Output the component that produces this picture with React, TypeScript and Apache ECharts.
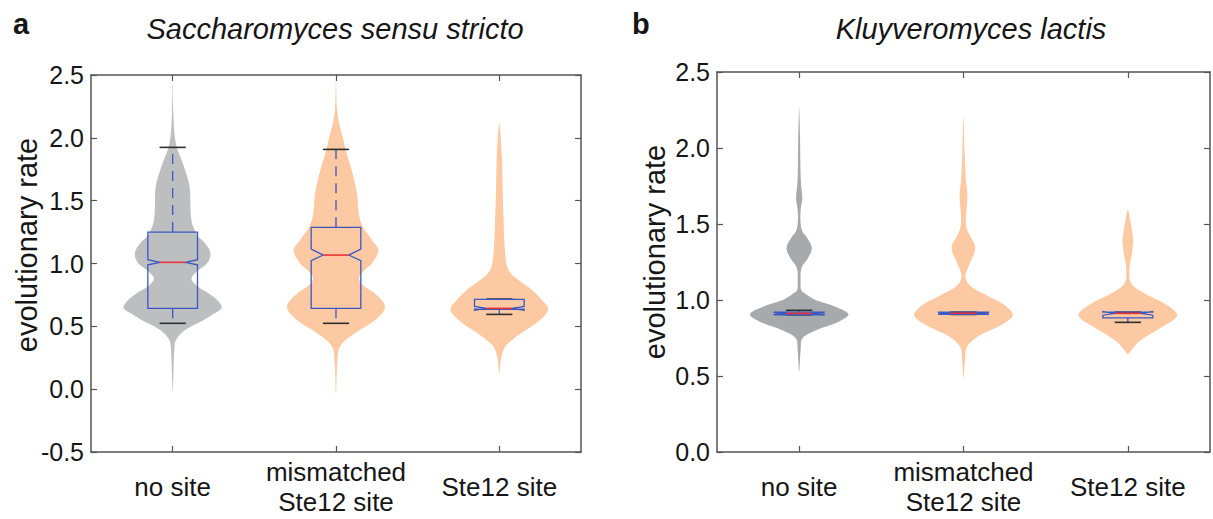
import React, { useEffect, useRef } from "react";
import * as echarts from "echarts";

// ---------- categories & ticks ----------
const categories = ["no site", "mismatched\nSte12 site", "Ste12 site"];
const yRangeA = [-0.5, 2.5];
const yRangeB = [0, 2.5];
const yStep = 0.5;

// ---------- violin profiles (value, half-width as fraction of category band) ----------
// Panel a: Saccharomyces sensu stricto
const aNoSiteY = [2.43, 2.2, 2.02, 1.92, 1.84, 1.74, 1.61, 1.45, 1.33, 1.22, 1.16, 1.08, 1.0, 0.95, 0.88, 0.82, 0.75, 0.70, 0.645, 0.59, 0.55, 0.47, 0.39, 0.31, 0.15, -0.02];
const aNoSiteW = [0, 0.004, 0.012, 0.026, 0.05, 0.077, 0.104, 0.109, 0.117, 0.153, 0.2, 0.232, 0.21, 0.16, 0.115, 0.15, 0.235, 0.28, 0.30, 0.24, 0.19, 0.076, 0.02, 0.01, 0.005, 0];
const aMisY = [2.45, 2.25, 2.14, 1.98, 1.91, 1.74, 1.56, 1.40, 1.30, 1.24, 1.17, 1.107, 1.0, 0.94, 0.88, 0.82, 0.76, 0.656, 0.55, 0.447, 0.34, 0.2, -0.04];
const aMisW = [0, 0.005, 0.015, 0.046, 0.058, 0.097, 0.128, 0.14, 0.16, 0.19, 0.23, 0.26, 0.22, 0.17, 0.14, 0.17, 0.24, 0.30, 0.24, 0.117, 0.025, 0.008, 0];
const aSteY = [2.11, 1.876, 1.61, 1.345, 1.08, 0.948, 0.868, 0.789, 0.709, 0.635, 0.55, 0.444, 0.39, 0.34, 0.25, 0.13];
const aSteW = [0, 0.015, 0.02, 0.026, 0.036, 0.056, 0.117, 0.2, 0.26, 0.30, 0.25, 0.133, 0.077, 0.036, 0.012, 0];

// Panel b: Kluyveromyces lactis
const bNoSiteY = [2.264, 2.085, 1.78, 1.67, 1.60, 1.517, 1.45, 1.41, 1.343, 1.275, 1.21, 1.11, 1.066, 1.04, 1.0, 0.956, 0.906, 0.857, 0.80, 0.748, 0.67, 0.528];
const bNoSiteW = [0, 0.005, 0.01, 0.019, 0.01, 0.008, 0.02, 0.048, 0.077, 0.053, 0.014, 0.009, 0.012, 0.04, 0.10, 0.22, 0.30, 0.24, 0.10, 0.02, 0.009, 0];
const bMisY = [2.205, 1.976, 1.80, 1.69, 1.605, 1.55, 1.474, 1.43, 1.343, 1.234, 1.153, 1.088, 1.02, 0.967, 0.90, 0.836, 0.76, 0.69, 0.605, 0.49];
const bMisW = [0, 0.007, 0.014, 0.024, 0.019, 0.015, 0.019, 0.036, 0.072, 0.036, 0.012, 0.046, 0.16, 0.25, 0.30, 0.23, 0.087, 0.02, 0.009, 0];
const bSteY = [1.594, 1.54, 1.43, 1.39, 1.30, 1.21, 1.11, 1.044, 0.978, 0.90, 0.824, 0.737, 0.67, 0.644];
const bSteW = [0, 0.012, 0.029, 0.033, 0.024, 0.01, 0.02, 0.10, 0.22, 0.30, 0.21, 0.08, 0.02, 0];

// ---------- box statistics ----------
const aLowerWhisker = [0.524, 0.524, 0.595];
const aQ1 = [0.643, 0.643, 0.636];
const aNotchLow = [0.99, 1.022, 0.628];
const aMedian = [1.009, 1.067, 0.643];
const aNotchHigh = [1.03, 1.115, 0.658];
const aQ3 = [1.25, 1.288, 0.714];
const aUpperWhisker = [1.924, 1.908, 0.717];

const bLowerWhisker = [0.903, 0.905, 0.853];
const bQ1 = [0.903, 0.905, 0.882];
const bNotchLow = [0.905, 0.907, 0.9];
const bMedian = [0.912, 0.913, 0.912];
const bNotchHigh = [0.918, 0.919, 0.924];
const bQ3 = [0.92, 0.92, 0.92];
const bUpperWhisker = [0.932, 0.92, 0.92];

// ---------- styles ----------
const FONT = "'Liberation Sans', Arial, Helvetica, sans-serif";
const TEXT = "#161616";
const AXIS = "#555555";
const GRAY_A = "#bcbec0";
const GRAY_B = "#a6aaad";
const PEACH = "#fcc9a2";
const BLUE = "#3a58c4";
const RED = "#e8323a";
const CAP = "#2e2e2e";
const BOX_HALF = 0.152;
const NOTCH_HALF = 0.078;
const CAP_HALF = 0.08;

type Violin = { y: number[]; w: number[]; color: string };

const violinsA: Violin[] = [
  { y: aNoSiteY, w: aNoSiteW, color: GRAY_A },
  { y: aMisY, w: aMisW, color: PEACH },
  { y: aSteY, w: aSteW, color: PEACH },
];
const violinsB: Violin[] = [
  { y: bNoSiteY, w: bNoSiteW, color: GRAY_B },
  { y: bMisY, w: bMisW, color: PEACH },
  { y: bSteY, w: bSteW, color: PEACH },
];

function boxRows(lw: number[], q1: number[], nl: number[], md: number[], nh: number[], q3: number[], uw: number[]) {
  return categories.map((_, i) => [i, lw[i], q1[i], nl[i], md[i], nh[i], q3[i], uw[i]]);
}

function violinRender(violins: Violin[]) {
  return (params: any, api: any) => {
    const v = violins[params.dataIndex];
    const cat = api.value(0);
    const band = api.size([1, 0])[0];
    const right: number[][] = [];
    const left: number[][] = [];
    for (let i = 0; i < v.y.length; i++) {
      const c = api.coord([cat, v.y[i]]);
      right.push([c[0] + v.w[i] * band, c[1]]);
      if (i > 0 && i < v.y.length - 1) left.push([c[0] - v.w[i] * band, c[1]]);
    }
    const pts = right.concat(left.reverse());
    return {
      type: "polygon",
      shape: { points: pts, smooth: 0.35 },
      style: { fill: v.color, stroke: null },
      silent: true,
    };
  };
}

function boxRender(params: any, api: any) {
  const cat = api.value(0);
  const lw = api.value(1), q1 = api.value(2), nl = api.value(3), md = api.value(4);
  const nh = api.value(5), q3 = api.value(6), uw = api.value(7);
  const band = api.size([1, 0])[0];
  const cx = api.coord([cat, md])[0];
  const Y = (v: number) => api.coord([cat, v])[1];
  const hw = BOX_HALF * band, nw = NOTCH_HALF * band, cw = CAP_HALF * band;
  const L = cx - hw, R = cx + hw;
  const children: any[] = [];
  const whisker = (a: number, b: number) => ({
    type: "line",
    shape: { x1: cx, y1: Y(a), x2: cx, y2: Y(b) },
    style: { stroke: BLUE, lineWidth: 1.3, lineDash: [10, 7] },
  });
  if (q3 !== uw) children.push(whisker(q3, uw));
  if (q1 !== lw) children.push(whisker(q1, lw));
  children.push({ type: "line", shape: { x1: cx - cw, y1: Y(uw), x2: cx + cw, y2: Y(uw) }, style: { stroke: CAP, lineWidth: 1.6 } });
  children.push({ type: "line", shape: { x1: cx - cw, y1: Y(lw), x2: cx + cw, y2: Y(lw) }, style: { stroke: CAP, lineWidth: 1.6 } });
  children.push({
    type: "polygon",
    shape: {
      points: [
        [L, Y(q1)], [L, Y(nl)], [cx - nw, Y(md)], [L, Y(nh)], [L, Y(q3)],
        [R, Y(q3)], [R, Y(nh)], [cx + nw, Y(md)], [R, Y(nl)], [R, Y(q1)],
      ],
    },
    style: { fill: null, stroke: BLUE, lineWidth: 1.3 },
  });
  children.push({ type: "line", shape: { x1: cx - nw, y1: Y(md), x2: cx + nw, y2: Y(md) }, style: { stroke: RED, lineWidth: 1.6 } });
  return { type: "group", children, silent: true };
}

function xAxisFor(grid: number, pos: "bottom" | "top") {
  return {
    type: "category",
    gridIndex: grid,
    position: pos,
    data: categories,
    boundaryGap: true,
    axisLine: { show: true, onZero: false, lineStyle: { color: AXIS, width: 1.5 } },
    axisTick: { show: true, inside: true, alignWithLabel: true, length: 6, lineStyle: { color: AXIS, width: 1.2 } },
    axisLabel: {
      show: pos === "bottom",
      interval: 0,
      margin: 35,
      verticalAlign: "middle",
      fontSize: 26,
      lineHeight: 30,
      color: TEXT,
      fontFamily: FONT,
    },
    splitLine: { show: false },
  };
}

function yAxisFor(grid: number, pos: "left" | "right", range: number[]) {
  return {
    type: "value",
    gridIndex: grid,
    position: pos,
    min: range[0],
    max: range[1],
    interval: yStep,
    axisLine: { show: true, onZero: false, lineStyle: { color: AXIS, width: 1.5 } },
    axisTick: { show: true, inside: true, length: 6, lineStyle: { color: AXIS, width: 1.2 } },
    axisLabel: {
      show: pos === "left",
      margin: 7,
      fontSize: 25,
      color: TEXT,
      fontFamily: FONT,
      formatter: (v: number) => v.toFixed(1),
    },
    splitLine: { show: false },
  };
}

export default function App() {
  const ref = useRef<HTMLDivElement>(null);
  useEffect(() => {
    if (!ref.current) return;
    const chart = echarts.init(ref.current, undefined, { renderer: "svg" });
    const option: any = {
      animation: false,
      backgroundColor: "#ffffff",
      grid: [
        { left: 91, top: 75, width: 490, height: 377 },
        { left: 717, top: 72, width: 493, height: 380 },
      ],
      xAxis: [xAxisFor(0, "bottom"), xAxisFor(0, "top"), xAxisFor(1, "bottom"), xAxisFor(1, "top")],
      yAxis: [
        yAxisFor(0, "left", yRangeA),
        yAxisFor(0, "right", yRangeA),
        yAxisFor(1, "left", yRangeB),
        yAxisFor(1, "right", yRangeB),
      ],
      graphic: [
        { type: "text", x: 13, y: 24, style: { text: "a", font: `bold 29px ${FONT}`, fill: TEXT, textVerticalAlign: "middle" } },
        { type: "text", x: 335, y: 29, style: { text: "Saccharomyces sensu stricto", font: `italic 29px ${FONT}`, fill: TEXT, textAlign: "center", textVerticalAlign: "middle" } },
        { type: "text", x: 632, y: 24, style: { text: "b", font: `bold 29px ${FONT}`, fill: TEXT, textVerticalAlign: "middle" } },
        { type: "text", x: 971, y: 29, style: { text: "Kluyveromyces lactis", font: `italic 29px ${FONT}`, fill: TEXT, textAlign: "center", textVerticalAlign: "middle" } },
        { type: "text", x: 27, y: 245, rotation: Math.PI / 2, style: { text: "evolutionary rate", font: `29px ${FONT}`, fill: TEXT, textAlign: "center", textVerticalAlign: "middle" } },
        { type: "text", x: 655, y: 252, rotation: Math.PI / 2, style: { text: "evolutionary rate", font: `29px ${FONT}`, fill: TEXT, textAlign: "center", textVerticalAlign: "middle" } },
      ],
      series: [
        {
          type: "custom", name: "violin a", xAxisIndex: 0, yAxisIndex: 0,
          data: categories.map((_, i) => [i, 0]),
          renderItem: violinRender(violinsA), encode: { x: 0, y: 1 }, z: 1,
        },
        {
          type: "custom", name: "violin b", xAxisIndex: 2, yAxisIndex: 2,
          data: categories.map((_, i) => [i, 0]),
          renderItem: violinRender(violinsB), encode: { x: 0, y: 1 }, z: 1,
        },
        {
          type: "custom", name: "box a", xAxisIndex: 0, yAxisIndex: 0,
          data: boxRows(aLowerWhisker, aQ1, aNotchLow, aMedian, aNotchHigh, aQ3, aUpperWhisker),
          renderItem: boxRender, encode: { x: 0, y: 4 }, z: 2,
        },
        {
          type: "custom", name: "box b", xAxisIndex: 2, yAxisIndex: 2,
          data: boxRows(bLowerWhisker, bQ1, bNotchLow, bMedian, bNotchHigh, bQ3, bUpperWhisker),
          renderItem: boxRender, encode: { x: 0, y: 4 }, z: 2,
        },
      ],
    };
    chart.setOption(option);
    return () => chart.dispose();
  }, []);
  return (
    <div
      ref={ref}
      style={{ position: "fixed", left: 0, top: 0, width: 1213, height: 519, background: "#fff" }}
    />
  );
}
